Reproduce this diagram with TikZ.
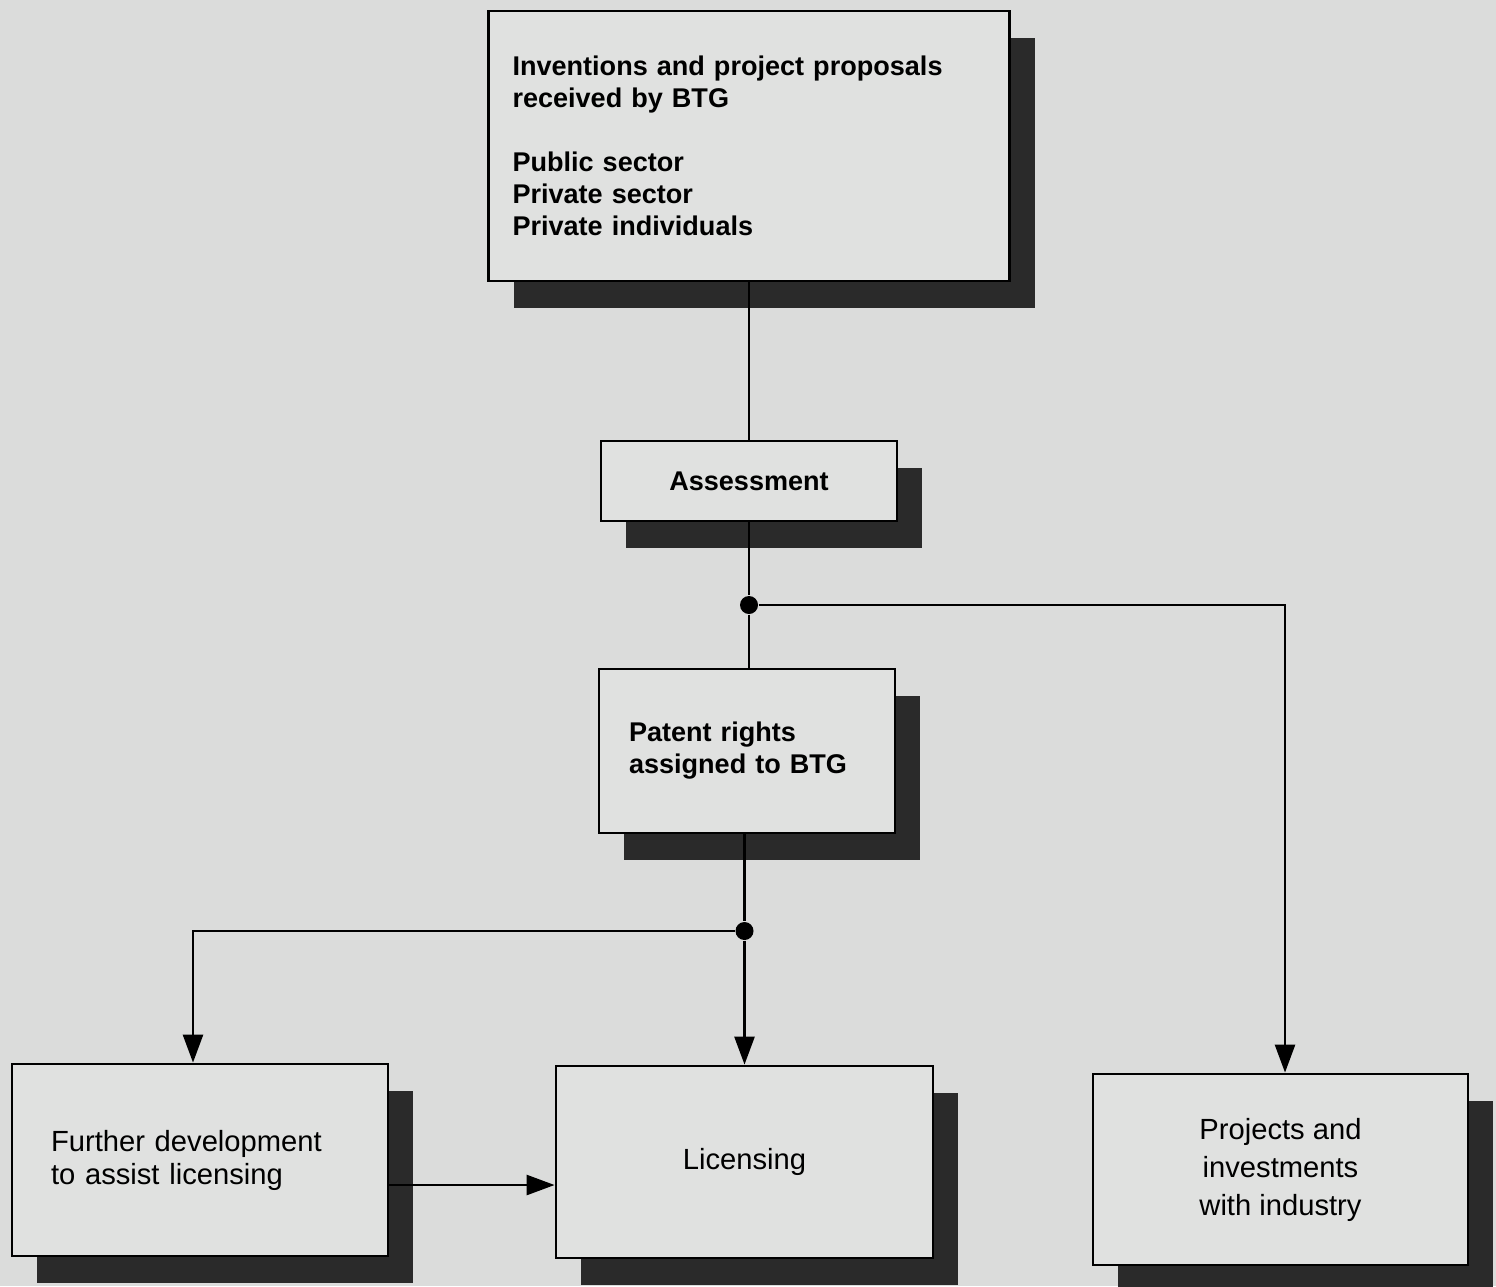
\documentclass[tikz,border=0pt]{standalone}
\usepackage{fontspec}
\setmainfont{Liberation Sans}
\usetikzlibrary{arrows.meta,shadows}
\definecolor{bgcol}{RGB}{219,220,219}
\definecolor{boxcol}{RGB}{224,225,224}
\definecolor{shcol}{RGB}{42,42,42}
\tikzset{
  box/.style={draw, line width=0.8pt, fill=boxcol, inner sep=0pt,
    drop shadow={shadow xshift=0.25cm, shadow yshift=-0.27cm, fill=shcol, opacity=1}},
  headfont/.style={font=\bfseries\fontsize{7.7}{9.1}\selectfont},
  lowfont/.style={font=\fontsize{8.3}{9.4}\selectfont},
  link/.style={line width=0.75pt},
  arr/.style={link, -{Triangle[length=0.28cm,width=0.2cm]}},
  dot/.style={circle, fill=black, inner sep=0pt, minimum size=0.18cm}
}
\begin{document}
\begin{tikzpicture}
\fill[bgcol] (0,0) rectangle (14.96,12.86);
\useasboundingbox (0,0) rectangle (14.96,12.86);
%方框
\node[box, headfont, minimum width=5.21cm, minimum height=2.70cm, text width=4.73cm, align=left] (recv) at (7.49,11.40) {Inventions and project proposals\\received by BTG\\[9.1pt]Public sector\\Private sector\\Private individuals};
\node[box, headfont, minimum width=2.96cm, minimum height=0.80cm] (assess) at (7.49,8.05) {Assessment};
\node[box, headfont, minimum width=2.96cm, minimum height=1.64cm, text width=2.36cm, align=left] (patent) at (7.47,5.35) {Patent rights\\assigned to BTG};
\node[box, lowfont, minimum width=3.76cm, minimum height=1.92cm, text width=2.98cm, align=left] (further) at (2.00,1.26) {Further development\\to assist licensing};
\node[box, lowfont, minimum width=3.77cm, minimum height=1.92cm] (lic) at (7.445,1.24) {Licensing};
\node[box, lowfont, minimum width=3.75cm, minimum height=1.91cm, align=center, font=\fontsize{8.3}{10.8}\selectfont] (proj) at (12.805,1.165) {Projects and\\investments\\with industry};
%分支点
\node[dot] (d1) at (7.49,6.81) {};
\node[dot] (d2) at (7.445,3.55) {};
%连线
\draw[link] (recv) -- (assess);
\draw[link] (assess) -- (d1) -- (d1 |- patent.north);
\draw[arr] (d1) -| ([xshift=0.045cm]proj.north);
\draw[link] (d2 |- patent.south) -- (d2);
\draw[arr] (d2) -- (lic.north);
\draw[arr] (d2) -| ([xshift=-0.07cm]further.north);
\draw[arr] ([yshift=-0.25cm]further.east) -- ([yshift=-0.25cm]further.east -| lic.west);
\end{tikzpicture}
\end{document}
